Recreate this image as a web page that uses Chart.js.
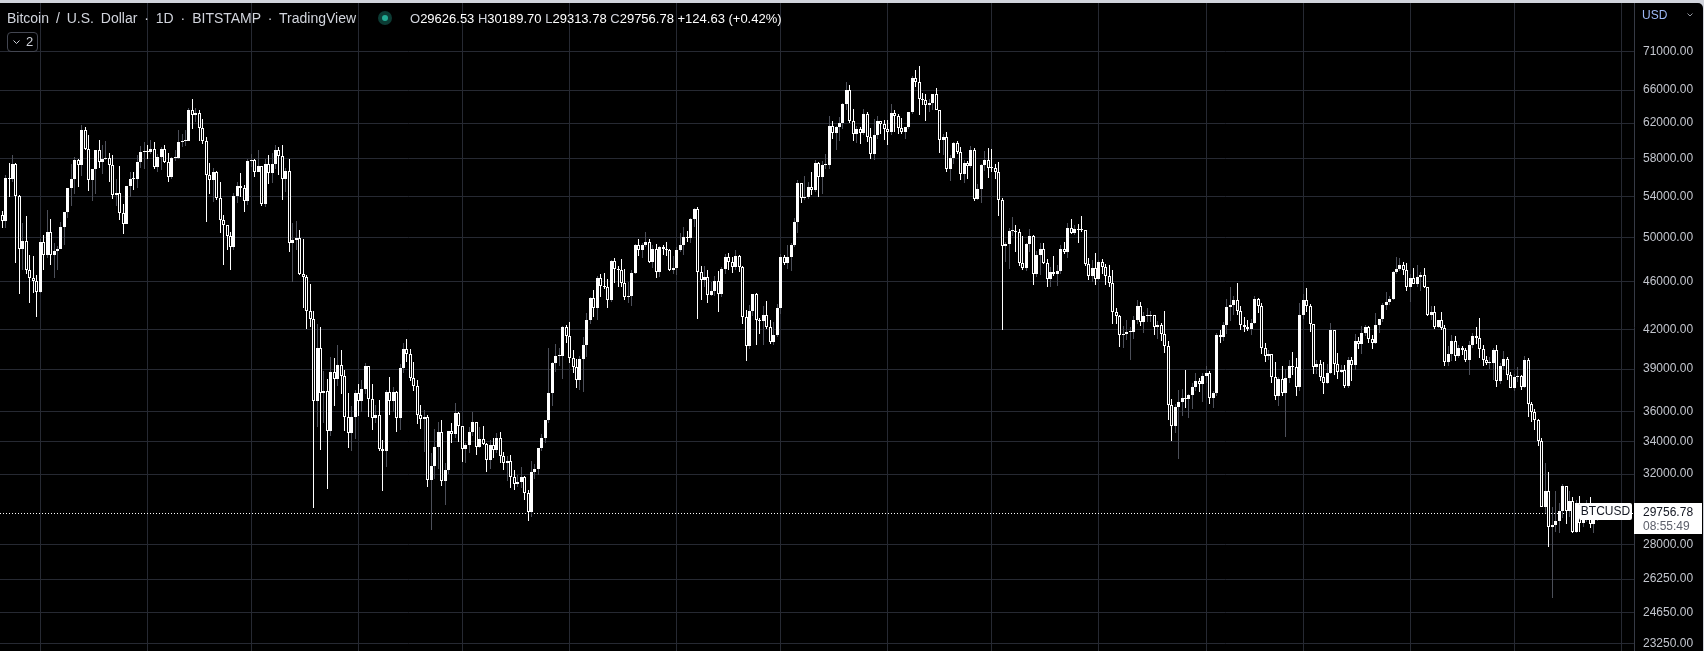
<!DOCTYPE html>
<html>
<head>
<meta charset="utf-8">
<title>BTCUSD 1D</title>
<script src="https://cdn.jsdelivr.net/npm/chart.js@4.4.1/dist/chart.umd.min.js"></script>
<style>
  html, body { margin: 0; padding: 0; width: 1704px; height: 651px; overflow: hidden; background: #d1d4dc; }
  #pane { position: absolute; left: 0; top: 3px; width: 1703px; height: 648px; background: #000; border-top-right-radius: 5px; overflow: hidden; }
  #chart { display: block; }
  .txt { position: absolute; font-family: "Liberation Sans", Arial, sans-serif; font-size: 13px; line-height: 15px; white-space: nowrap; }
  .title { left: 7px; top: 11px; font-size: 14px; color: #d1d4dc; word-spacing: 3px; }
  .ohlc { left: 410px; top: 11px; color: #ffffff; }
  .ohlc .k { color: #d1d4dc; }
  .dot { position: absolute; left: 378px; top: 11px; width: 14px; height: 14px; border-radius: 50%; background: #0c3b34; }
  .dot::after { content: ""; position: absolute; left: 4px; top: 4px; width: 6px; height: 6px; border-radius: 50%; background: #22ab94; }
  .btn { position: absolute; left: 7px; top: 32px; width: 29px; height: 18px; border: 1px solid #434651; border-radius: 4px; }
  .btn svg { position: absolute; left: 5px; top: 7px; }
  .btn span { position: absolute; left: 18px; top: 1px; font-family: "Liberation Sans", Arial, sans-serif; font-size: 13px; line-height: 16px; color: #d1d4dc; }
  .usd { left: 1642px; top: 8px; font-size: 12px; color: #9db8f5; }
  .usd-chev { position: absolute; left: 1687px; top: 13px; }
</style>
</head>
<body>
<div id="pane"><canvas id="chart" width="1703" height="648"></canvas></div>
<div class="txt title">Bitcoin / U.S. Dollar · 1D · BITSTAMP · TradingView</div>
<div class="dot"></div>
<div class="txt ohlc"><span class="k">O</span>29626.53 <span class="k">H</span>30189.70 <span class="k">L</span>29313.78 <span class="k">C</span>29756.78 +124.63 (+0.42%)</div>
<div class="btn"><svg width="7" height="5" viewBox="0 0 7 5"><polyline points="0.5,0.5 3.5,3.5 6.5,0.5" fill="none" stroke="#d1d4dc" stroke-width="1"/></svg><span>2</span></div>
<div class="txt usd">USD</div>
<svg class="usd-chev" width="6" height="4" viewBox="0 0 6 4"><polyline points="0.5,0.5 3,3 5.5,0.5" fill="none" stroke="#9598a1" stroke-width="1"/></svg>

<script>
// Daily candles, BITSTAMP BTC/USD, 18 Feb 2021 (index 0) .. 25 May 2022 (index 461)
const opens = [
  52120, 51550, 55900, 55850, 57410, 54090, 48890, 49690, 47050, 46280, 46060,
  45140, 49600, 48350, 50500, 48370, 48750, 48880, 50950, 52400, 54900, 55850, 57800, 57250, 61200, 59000, 55650, 56900, 58900, 57650, 58000, 58100, 57350, 54100, 54350, 52300, 51300, 55050, 55850, 55800, 57600, 58750,
  58800, 58750, 59000, 57100, 58200, 59100, 57600, 56000, 58100, 58100, 59800, 59900, 59900, 63600, 62950, 63200, 61400, 60000, 56200, 55700, 56500, 53800, 51700, 51150, 50100, 49100, 54000, 55050, 54850, 53550,
  57750, 57800, 56600, 57200, 53250, 57450, 56400, 57400, 58900, 58250, 55800, 56650, 49500, 49700, 49900, 46700, 46400, 43550, 42900, 36700, 40600, 37300, 37450, 34700, 38800, 38300, 39300, 38500, 35650, 34600, 35650,
  37300, 36700, 37550, 39200, 36850, 35550, 35800, 33550, 33400, 37350, 36700, 37350, 35550, 39050, 40500, 40150, 38350, 37750, 35800, 35500, 35600, 31650, 32500, 33700, 34650, 31600, 32250, 34700, 34500, 35900,
  35050, 33550, 33800, 34650, 35300, 33700, 34200, 33850, 32850, 33800, 33500, 34250, 33100, 32700, 32800, 31850, 31400, 31500, 31800, 30850, 29800, 32150, 32300, 33600, 34250, 35400, 37300, 39450, 40000, 40000, 42200,
  41500, 39850, 39150, 38200, 39750, 40850, 42800, 44600, 43800, 46300, 45600, 45550, 44400, 47800, 47100, 47000, 45900, 44700, 44800, 46750, 49300, 48850, 49300, 49550, 47700, 48950, 46850, 49050, 48950, 48800, 47050,
  47150, 48850, 49300, 50050, 49950, 51800, 52700, 46850, 46100, 46400, 44850, 45150, 46050, 44950, 47100, 48150, 47750, 47300, 48300, 47250, 43000, 40700, 43550, 44900, 42800, 42700, 43200, 42200, 41050, 41550,
  43800, 48150, 47650, 48200, 49250, 51500, 55350, 53800, 53950, 54950, 54650, 57500, 56000, 57350, 57350, 61700, 60850, 61500, 62000, 64300, 66000, 62200, 60700, 61300, 60850, 63050, 60350, 58450, 60600, 62250, 61850,
  61300, 60950, 63200, 62900, 61400, 60950, 61500, 63300, 67550, 66950, 64900, 64800, 64150, 64400, 65500, 63600, 60100, 60350, 56900, 58100, 59750, 58700, 56300, 57550, 57150, 58950, 53700, 54750, 57300, 57800,
  57000, 56950, 56500, 53600, 49200, 49400, 50550, 50600, 50500, 47600, 47150, 49350, 50100, 46700, 48400, 48900, 47650, 46200, 46850, 46700, 46900, 48950, 48600, 50850, 50400, 50800, 50700, 50650, 47550, 46450, 47150,
  46200, 47700, 47300, 46450, 45850, 43450, 43100, 41550, 41700, 41850, 41850, 42750, 43900, 42600, 43100, 43100, 43150, 42250, 42400, 41700, 40700, 36450, 35050, 36300, 36650, 36950, 36850, 37150, 37700, 38150, 37900,
  38500, 38700, 36900, 37300, 41550, 41400, 42400, 43850, 44050, 44400, 43550, 42400, 42250, 42100, 42550, 44550, 43900, 40550, 40000, 40100, 38400, 37050, 38250, 37300, 38350, 39250, 39150, 37700,
  43200, 44400, 43900, 42450, 39150, 39400, 38400, 38000, 38750, 41950, 39400, 38800, 38900, 37800, 39650, 39300, 41100, 40900, 41750, 42200, 41250, 41000, 42350, 42850, 44000, 44300, 44500, 46800, 47100, 47450, 47050,
  45500, 46300, 45800, 46400, 46600, 45500, 43150, 43450, 42250, 42750, 42150, 39500, 40100, 41150, 39950, 40550, 40400, 39700, 40800, 41500, 41350, 40500, 39700, 39450, 39450, 40450, 38100, 39250, 39750, 38600,
  37650, 38450, 38500, 37700, 39700, 36550, 36000, 35450, 34050, 30100, 31000, 28950, 29050, 29300, 29850, 31300, 29850, 30400, 28700, 30300, 29200, 29450, 30300, 29100, 29626.53
];
const highs = [
  52530, 56200, 57500, 58350, 57500, 54180, 51370, 52000, 48400, 48300, 46600,
  49800, 50200, 52650, 51770, 49450, 49200, 51450, 52400, 54900, 57400, 58150, 58000, 61780, 61600, 60600, 56900, 58950, 60100, 59450, 59900, 58600, 58400, 55850, 57200, 53200, 55100, 56600, 56600, 58400, 59400, 59800,
  59500, 60100, 59800, 58500, 59250, 59500, 58650, 58200, 58900, 61200, 60700, 61200, 63800, 64900, 63800, 63500, 62500, 60400, 57500, 57000, 56700, 55500, 52100, 51200, 50500, 54400, 55450, 56400, 55200, 58000,
  58450, 57900, 58950, 57200, 57900, 58350, 58600, 59500, 59250, 59550, 57000, 58000, 51400, 51550, 50700, 49800, 46600, 45800, 43550, 42500, 42250, 38850, 38250, 39900, 39800, 40800, 40400, 38900, 37300, 36400, 37500,
  37900, 38200, 39450, 39250, 37900, 36450, 36800, 34100, 37500, 38400, 37700, 37450, 39400, 41000, 41300, 40500, 39500, 38200, 36450, 36100, 35750, 33300, 34850, 35300, 35450, 32700, 34700, 35200, 36600, 36000,
  35050, 33950, 34950, 35950, 35300, 35000, 35050, 33900, 34100, 34250, 34600, 34650, 33350, 33100, 33150, 32250, 31950, 32400, 31900, 31050, 32800, 32600, 33600, 34500, 35400, 40550, 39500, 40900, 40600, 42300, 42400,
  42600, 40450, 39750, 39950, 41400, 43350, 44700, 45300, 46450, 46700, 46750, 46200, 47900, 48100, 47350, 48000, 47100, 46000, 47000, 49350, 49800, 49500, 50500, 49800, 49250, 49350, 49150, 49300, 49600, 48900, 48250,
  49100, 50400, 51000, 50550, 51900, 52800, 52900, 47350, 47400, 47050, 45950, 46450, 46900, 47250, 48450, 48500, 48150, 48800, 48350, 47350, 43600, 44000, 44950, 45000, 42950, 43900, 44350, 42800, 42600, 44100,
  48450, 48350, 49250, 49450, 51900, 55750, 55350, 56100, 55450, 56500, 57800, 57650, 57700, 58500, 62900, 62300, 61700, 62700, 64450, 67000, 66600, 63700, 61700, 61500, 63700, 63300, 61450, 62450, 62900, 62300, 62400,
  62400, 64250, 63500, 63100, 62600, 61600, 63300, 67800, 68500, 69000, 65600, 65450, 64950, 65500, 66300, 63600, 60800, 60950, 58350, 59850, 60000, 59300, 57850, 57700, 59400, 59200, 55300, 57450, 58850, 59200,
  59050, 57400, 57600, 53850, 49550, 50900, 51950, 51200, 50800, 50100, 49500, 50800, 50250, 48700, 49500, 49450, 48000, 47300, 48300, 47500, 49300, 49550, 51350, 51800, 51150, 51250, 52050, 50700, 48100, 47900, 48550,
  47900, 47950, 47550, 47500, 47050, 43750, 43150, 42300, 42800, 42250, 43100, 44400, 44300, 43450, 43800, 43500, 43200, 42700, 42550, 43500, 41100, 36850, 36500, 37500, 37550, 38900, 37200, 38000, 38700, 38350, 38700,
  39250, 38850, 37400, 41750, 41950, 42600, 44500, 45500, 44800, 45850, 43900, 43000, 42750, 42900, 44800, 44600, 44200, 40950, 40450, 40150, 39500, 38450, 39250, 39000, 39700, 40300, 39850, 44200,
  44950, 45400, 44100, 42500, 39650, 39650, 39500, 39350, 42550, 42000, 40200, 39300, 39300, 39900, 39900, 41700, 41450, 42300, 42400, 42300, 41550, 43350, 42900, 44200, 45100, 44800, 46900, 48200, 48100, 47700, 47600,
  46700, 47200, 47450, 46850, 47150, 45500, 43900, 43950, 42800, 43400, 42400, 40700, 41550, 41500, 40850, 40700, 40600, 41100, 41750, 42200, 42950, 40800, 39950, 39900, 40600, 40800, 39450, 40350, 39900, 38800,
  38650, 39150, 38600, 40000, 39850, 36650, 36150, 35500, 34250, 32650, 32150, 30100, 31000, 30300, 31400, 31300, 31000, 30650, 30500, 30700, 29600, 30450, 30650, 29800, 30189.70
];
const lows = [
  50900, 50880, 53900, 55480, 47600, 44900, 47000, 46700, 44150, 45000, 43000,
  45000, 47000, 48100, 47500, 46300, 47000, 48870, 49300, 51850, 53000, 54270, 55000, 56100, 58950, 54600, 53500, 54300, 57000, 56300, 57800, 55500, 53700, 53000, 51700, 50300, 51250, 53950, 54700, 54900, 57000, 56900,
  57900, 58500, 56900, 56500, 56800, 57500, 55450, 55800, 57700, 57900, 59300, 59400, 59900, 61300, 62100, 60000, 59600, 51500, 54200, 53400, 53600, 50400, 47500, 48800, 47000, 48850, 53300, 53900, 52400, 53100,
  57050, 56050, 56500, 53000, 52900, 55250, 55400, 56900, 56250, 53600, 54450, 48600, 46000, 48800, 46600, 43800, 42100, 42250, 30000, 35000, 33500, 35200, 31100, 34400, 36400, 37800, 37200, 34700, 33600, 33400, 34200,
  35700, 35950, 37200, 35600, 34800, 35250, 33400, 31000, 32400, 35800, 35950, 34650, 34800, 38750, 39500, 38100, 37400, 35150, 34850, 33350, 31250, 28800, 31700, 32300, 31300, 30200, 32000, 33900, 34250, 34000,
  32750, 32700, 33300, 34400, 33200, 33600, 33800, 32100, 32300, 33000, 33300, 32700, 32250, 31600, 31150, 31050, 31200, 31150, 30450, 29300, 29500, 31700, 31950, 33400, 33900, 35250, 36400, 38800, 39250, 38300, 41000,
  39450, 38700, 37600, 37500, 37350, 39900, 42500, 43000, 42800, 44700, 45350, 43800, 44250, 45900, 45550, 45500, 44400, 44200, 43950, 46650, 48300, 48100, 49100, 47650, 47200, 46350, 46400, 48400, 48300, 46900, 46700,
  46600, 48650, 48400, 49550, 49500, 50950, 42850, 44450, 45550, 44200, 44750, 44750, 43400, 44700, 46700, 47050, 46750, 47050, 46850, 42500, 39600, 40500, 43100, 40800, 41700, 40800, 42100, 40900, 40800, 41450,
  43300, 47450, 47100, 46900, 49050, 50400, 53300, 53600, 53700, 54150, 54450, 53900, 54300, 56850, 56850, 60200, 58950, 59900, 61300, 63500, 62000, 60000, 59700, 59600, 60650, 59850, 58000, 57850, 60200, 60700, 60100,
  59500, 60650, 60950, 60750, 60700, 60150, 61350, 63100, 66350, 63000, 64100, 62300, 63300, 63600, 63500, 58600, 58400, 56500, 55600, 57400, 58500, 55650, 55400, 55850, 57000, 53550, 53650, 53350, 56700, 55900,
  56500, 55850, 52000, 42000, 47700, 47100, 50100, 48650, 47400, 47000, 46900, 48650, 45700, 46400, 46550, 47550, 45550, 45550, 46450, 45600, 46650, 48450, 48050, 50300, 50200, 49500, 50500, 47350, 46150, 46000, 45700,
  46100, 46700, 45700, 45500, 42500, 42450, 40650, 40550, 41200, 39650, 41300, 42500, 42300, 41750, 42600, 42600, 41550, 41250, 41100, 40200, 35450, 34050, 34600, 32950, 35700, 36250, 35550, 36150, 37400, 37350, 36650,
  38000, 36500, 36250, 37050, 40950, 41150, 41700, 42700, 43200, 43200, 42000, 41800, 41900, 41600, 42450, 43350, 40100, 39500, 39700, 38000, 36800, 36400, 37050, 34300, 38000, 38600, 37050, 37450,
  42850, 43400, 41850, 38650, 38650, 38100, 37200, 37900, 38650, 38550, 38250, 38700, 37600, 37600, 38150, 38900, 40500, 40150, 41500, 40950, 40500, 40900, 41750, 42600, 43600, 44050, 44400, 46650, 46950, 46550, 45200,
  44250, 45750, 45550, 45150, 45400, 43100, 42750, 42100, 42150, 42000, 39200, 39250, 39600, 39600, 39800, 40050, 39550, 38550, 40600, 40900, 39800, 39200, 39300, 39000, 38200, 37700, 37900, 38900, 38200, 37600,
  37400, 38050, 37500, 37650, 35600, 35300, 34800, 33750, 30050, 29750, 27900, 25350, 28700, 28650, 29450, 29100, 29500, 28650, 28650, 28700, 28950, 29250, 28900, 28650, 29313.78
];
const closes = [
  51550, 55900, 55850, 57410, 54090, 48890, 49690, 47050, 46280, 46060, 45140,
  49600, 48350, 50500, 48370, 48750, 48880, 50950, 52400, 54900, 55850, 57800, 57250, 61200, 59000, 55650, 56900, 58900, 57650, 58000, 58100, 57350, 54100, 54350, 52300, 51300, 55050, 55850, 55800, 57600, 58750, 58800,
  58750, 59000, 57100, 58200, 59100, 57600, 56000, 58100, 58100, 59800, 59900, 59900, 63600, 62950, 63200, 61400, 60000, 56200, 55700, 56500, 53800, 51700, 51150, 50100, 49100, 54000, 55050, 54850, 53550, 57750,
  57800, 56600, 57200, 53250, 57450, 56400, 57400, 58900, 58250, 55800, 56650, 49500, 49700, 49900, 46700, 46400, 43550, 42900, 36700, 40600, 37300, 37450, 34700, 38800, 38300, 39300, 38500, 35650, 34600, 35650, 37300,
  36700, 37550, 39200, 36850, 35550, 35800, 33550, 33400, 37350, 36700, 37350, 35550, 39050, 40500, 40150, 38350, 37750, 35800, 35500, 35600, 31650, 32500, 33700, 34650, 31600, 32250, 34700, 34500, 35900, 35050,
  33550, 33800, 34650, 35300, 33700, 34200, 33850, 32850, 33800, 33500, 34250, 33100, 32700, 32800, 31850, 31400, 31500, 31800, 30850, 29800, 32150, 32300, 33600, 34250, 35400, 37300, 39450, 40000, 40000, 42200, 41500,
  39850, 39150, 38200, 39750, 40850, 42800, 44600, 43800, 46300, 45600, 45550, 44400, 47800, 47100, 47000, 45900, 44700, 44800, 46750, 49300, 48850, 49300, 49550, 47700, 48950, 46850, 49050, 48950, 48800, 47050, 47150,
  48850, 49300, 50050, 49950, 51800, 52700, 46850, 46100, 46400, 44850, 45150, 46050, 44950, 47100, 48150, 47750, 47300, 48300, 47250, 43000, 40700, 43550, 44900, 42800, 42700, 43200, 42200, 41050, 41550, 43800,
  48150, 47650, 48200, 49250, 51500, 55350, 53800, 53950, 54950, 54650, 57500, 56000, 57350, 57350, 61700, 60850, 61500, 62000, 64300, 66000, 62200, 60700, 61300, 60850, 63050, 60350, 58450, 60600, 62250, 61850, 61300,
  60950, 63200, 62900, 61400, 60950, 61500, 63300, 67550, 66950, 64900, 64800, 64150, 64400, 65500, 63600, 60100, 60350, 56900, 58100, 59750, 58700, 56300, 57550, 57150, 58950, 53700, 54750, 57300, 57800, 57000,
  56950, 56500, 53600, 49200, 49400, 50550, 50600, 50500, 47600, 47150, 49350, 50100, 46700, 48400, 48900, 47650, 46200, 46850, 46700, 46900, 48950, 48600, 50850, 50400, 50800, 50700, 50650, 47550, 46450, 47150, 46200,
  47700, 47300, 46450, 45850, 43450, 43100, 41550, 41700, 41850, 41850, 42750, 43900, 42600, 43100, 43100, 43150, 42250, 42400, 41700, 40700, 36450, 35050, 36300, 36650, 36950, 36850, 37150, 37700, 38150, 37900, 38500,
  38700, 36900, 37300, 41550, 41400, 42400, 43850, 44050, 44400, 43550, 42400, 42250, 42100, 42550, 44550, 43900, 40550, 40000, 40100, 38400, 37050, 38250, 37300, 38350, 39250, 39150, 37700, 43200,
  44400, 43900, 42450, 39150, 39400, 38400, 38000, 38750, 41950, 39400, 38800, 38900, 37800, 39650, 39300, 41100, 40900, 41750, 42200, 41250, 41000, 42350, 42850, 44000, 44300, 44500, 46800, 47100, 47450, 47050, 45500,
  46300, 45800, 46400, 46600, 45500, 43150, 43450, 42250, 42750, 42150, 39500, 40100, 41150, 39950, 40550, 40400, 39700, 40800, 41500, 41350, 40500, 39700, 39450, 39450, 40450, 38100, 39250, 39750, 38600, 37650,
  38450, 38500, 37700, 39700, 36550, 36000, 35450, 34050, 30100, 31000, 28950, 29050, 29300, 29850, 31300, 29850, 30400, 28700, 30300, 29200, 29450, 30300, 29100, 29632, 29756.78
];

// right price scale labels (30000 sits under the last-price tag, so it is not drawn)
const priceTicks = [71000, 66000, 62000, 58000, 54000, 50000, 46000, 42000, 39000, 36000, 34000, 32000, 28000, 26250, 24650, 23250];
// candle index of the 1st of each month, Mar 2021 .. Jun 2022 (vertical grid)
const monthStarts = [11, 42, 72, 103, 133, 164, 195, 225, 256, 286, 317, 348, 376, 407, 437, 468];
const symbol = 'BTCUSD';
const countdown = '08:55:49';

const FONT = '"Liberation Sans", Arial, sans-serif';
const GRID = '#262932';

const isUp = closes.map((c, i) => c >= opens[i]);
const bodyData = closes.map((c, i) => ({ x: i, y: [opens[i], c] }));
const wickData = closes.map((c, i) => ({ x: i, y: [lows[i], highs[i]] }));

// snap bars to whole pixels like the TradingView renderer, and draw the last price line
const candlePlugin = {
  id: 'candlePlugin',
  beforeDatasetsDraw(chart) {
    chart.getSortedVisibleDatasetMetas().forEach(meta => {
      meta.data.forEach(el => {
        el.x = Math.floor(el.x) + 0.5;
        el.y = Math.round(el.y);
        el.base = Math.round(el.base);
      });
    });
    const { ctx, chartArea, scales: { y } } = chart;
    const py = Math.round(y.getPixelForValue(closes[closes.length - 1])) + 0.5;
    ctx.save();
    ctx.strokeStyle = '#ffffff';
    ctx.lineWidth = 1;
    ctx.setLineDash([1, 2]);
    ctx.beginPath();
    ctx.moveTo(chartArea.left, py);
    ctx.lineTo(chartArea.right, py);
    ctx.stroke();
    ctx.restore();
  },
  afterDraw(chart) {
    const { ctx, chartArea, scales: { y } } = chart;
    const last = closes[closes.length - 1];
    const py = Math.round(y.getPixelForValue(last));
    ctx.save();
    // symbol tag at the end of the line
    ctx.fillStyle = '#ffffff';
    ctx.beginPath();
    ctx.roundRect(chartArea.right - 55, py - 10, 53, 17, 2);
    ctx.fill();
    ctx.fillStyle = '#131722';
    ctx.font = '12px ' + FONT;
    ctx.textAlign = 'center';
    ctx.textBaseline = 'middle';
    ctx.fillText(symbol, chartArea.right - 28.5, py - 1);
    // price tag on the axis
    ctx.fillStyle = '#ffffff';
    ctx.fillRect(y.left, py - 10, 68, 31);
    ctx.textAlign = 'left';
    ctx.fillStyle = '#131722';
    ctx.fillText(last.toFixed(2), y.left + 9, py);
    ctx.fillStyle = '#5d606b';
    ctx.fillText(countdown, y.left + 9, py + 14);
    ctx.restore();
  }
};

new Chart(document.getElementById('chart'), {
  type: 'bar',
  data: {
    datasets: [
      {
        label: 'body',
        data: bodyData,
        order: 0,
        grouped: false,
        barThickness: 3,
        borderWidth: 1,
        borderSkipped: false,
        minBarLength: 1,
        inflateAmount: 0,
        borderColor: '#ffffff',
        backgroundColor: isUp.map(u => u ? '#ffffff' : '#000000')
      },
      {
        label: 'wick',
        data: wickData,
        order: 1,
        grouped: false,
        barThickness: 1,
        borderWidth: 0,
        inflateAmount: 0,
        backgroundColor: isUp.map(u => u ? '#4c4f59' : '#ffffff')
      }
    ]
  },
  options: {
    responsive: false,
    animation: false,
    devicePixelRatio: 1,
    events: [],
    layout: { padding: 0 },
    plugins: { legend: { display: false }, tooltip: { enabled: false } },
    scales: {
      x: {
        type: 'linear',
        offset: false,
        min: -0.62,
        max: 471.63,
        afterBuildTicks: s => { s.ticks = monthStarts.map(v => ({ value: v })); },
        grid: { color: GRID, drawTicks: false, offset: false },
        border: { display: false },
        ticks: { display: false }
      },
      y: {
        type: 'logarithmic',
        position: 'right',
        min: 22924,
        max: 77762,
        afterBuildTicks: s => { s.ticks = priceTicks.map(v => ({ value: v })); },
        afterFit: s => { s.width = 69; s.paddingTop = 0; s.paddingBottom = 0; },
        grid: { color: GRID, drawTicks: false },
        border: { color: '#363a45' },
        ticks: {
          autoSkip: false,
          padding: 9,
          color: '#c3c6ce',
          font: { family: FONT, size: 12 },
          callback: v => Number(v).toFixed(2)
        }
      }
    }
  },
  plugins: [candlePlugin]
});
</script>
</body>
</html>
